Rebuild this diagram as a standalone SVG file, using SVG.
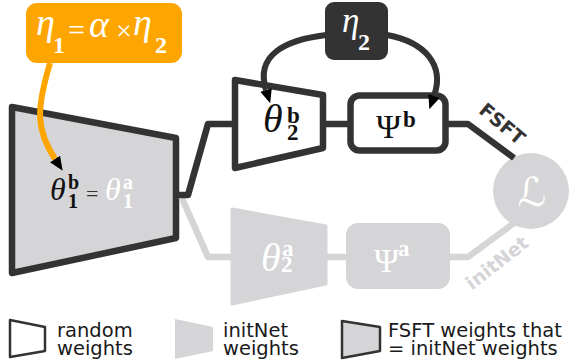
<svg xmlns="http://www.w3.org/2000/svg" width="573" height="364" viewBox="0 0 573 364">
<style>
.dk{stroke:#333;stroke-width:6.5;fill:none;stroke-linejoin:round}
.gl{stroke:#d5d4d7;stroke-width:6.5;fill:none;stroke-linejoin:round}
.arc{stroke:#333;stroke-width:6;fill:none}
.or{stroke:#ffa500;stroke-width:6;fill:none}
.mt{font-family:"Liberation Serif","DejaVu Serif",serif}
.i{font-style:italic}
.b{font-weight:bold}
.lg{font-family:"DejaVu Sans",sans-serif;font-size:19.5px;fill:#1a1a1a}
.lab{font-family:"DejaVu Sans",sans-serif;font-weight:bold;font-size:19px}
</style>
<defs>
<marker id="ah" markerUnits="userSpaceOnUse" markerWidth="14" markerHeight="12" viewBox="0 0 14 12" refX="0" refY="6" orient="auto">
<path d="M0,0 L14,6 L0,12 z" fill="#000"/>
</marker>
</defs>

<g id="note-eta1">
<rect x="26" y="3" width="156" height="60" rx="11" fill="#ffa500"/>
<text class="mt" fill="#fff"><tspan class="i" x="36" y="35" font-size="38">η</tspan><tspan class="b" x="53" y="53" font-size="24">1</tspan><tspan x="68" y="40" font-size="30">=</tspan><tspan class="i" x="89" y="37" font-size="38">α</tspan><tspan x="116" y="40" font-size="28">×</tspan><tspan class="i" x="133" y="35" font-size="38">η</tspan><tspan class="b" x="155" y="53" font-size="24">2</tspan></text>
</g>

<g id="box-eta2">
<rect x="325" y="2" width="63" height="58" rx="9" fill="#333"/>
<text class="mt" fill="#fff"><tspan class="i" x="342" y="32" font-size="35">η</tspan><tspan class="b" x="358" y="50" font-size="24">2</tspan></text>
</g>

<g id="theta1">
<polygon points="12,107 176,138 176,238 12,273" fill="#d5d4d7" stroke="#333" stroke-width="6.5" stroke-linejoin="round"/>
<text class="mt"><tspan class="i" x="50" y="200" font-size="32" fill="#111">θ</tspan><tspan class="b" x="68" y="189" font-size="20" fill="#111">b</tspan><tspan class="b" x="68" y="208" font-size="20" fill="#111">1</tspan><tspan x="86" y="201" font-size="22" fill="#333">=</tspan><tspan class="i" x="105" y="200" font-size="32" fill="#fff">θ</tspan><tspan class="b" x="123" y="189" font-size="20" fill="#fff">a</tspan><tspan class="b" x="123" y="208" font-size="20" fill="#fff">1</tspan></text>
</g>

<g id="theta2b">
<polygon points="235,80 323,95 323,148 235,168" fill="#fff" stroke="#333" stroke-width="6.5" stroke-linejoin="round"/>
<text class="mt" fill="#111"><tspan class="i" x="263" y="132" font-size="40">θ</tspan><tspan class="b" x="287" y="123" font-size="23">b</tspan><tspan class="b" x="287" y="140" font-size="23">2</tspan></text>
</g>

<g id="psib">
<rect x="350.5" y="95.5" width="95" height="55" rx="9" fill="#fff" stroke="#333" stroke-width="6.5"/>
<text class="mt" fill="#111"><tspan x="376" y="138" font-size="34">Ψ</tspan><tspan class="b" x="403" y="127" font-size="23">b</tspan></text>
</g>

<g id="theta2a">
<polygon points="232,209 326,226 326,284 232,304" fill="#d5d4d7" stroke="#d5d4d7" stroke-width="3" stroke-linejoin="round"/>
<text class="mt" fill="#fff"><tspan class="i" x="261" y="271" font-size="40">θ</tspan><tspan class="b" x="282" y="256" font-size="23">a</tspan><tspan class="b" x="281" y="272" font-size="23">2</tspan></text>
</g>

<g id="psia">
<rect x="346" y="223" width="104" height="66" rx="12" fill="#d5d4d7"/>
<text class="mt" fill="#fff"><tspan x="374" y="272" font-size="34">Ψ</tspan><tspan class="b" x="398" y="256" font-size="23">a</tspan></text>
</g>

<g id="loss">
<circle cx="531" cy="191" r="38" fill="#d5d4d7"/>
<text x="532" y="206" font-size="40" fill="#fff" text-anchor="middle" font-family="'DejaVu Serif','DejaVu Sans',serif" font-style="italic">ℒ</text>
</g>

<g id="legend-random">
<polygon points="10,320 45,327 45,351 10,357" fill="#fff" stroke="#333" stroke-width="2.5" stroke-linejoin="round"/>
<text class="lg"><tspan x="57" y="337">random</tspan><tspan x="57" y="355">weights</tspan></text>
</g>
<g id="legend-initnet">
<polygon points="175,319 213,327 213,351 175,359" fill="#d5d4d7"/>
<text class="lg"><tspan x="223" y="337">initNet</tspan><tspan x="223" y="355">weights</tspan></text>
</g>
<g id="legend-fsft">
<polygon points="342,321 380,327 380,351 342,358" fill="#d5d4d7" stroke="#333" stroke-width="2.5" stroke-linejoin="round"/>
<text class="lg"><tspan x="388" y="337">FSFT weights that</tspan><tspan x="388" y="355">= initNet weights</tspan></text>
</g>

<g id="connectors">
<polyline class="gl" points="181,196 208,257 233,257"/>
<line class="gl" x1="326" y1="257" x2="347" y2="257"/>
<polyline class="gl" points="449,257 468,257 514,223"/>
<polyline class="dk" points="176,195 188,195 208,124 235,124"/>
<line class="dk" x1="323" y1="124" x2="350" y2="124"/>
<polyline class="dk" points="446,124 468,124 514,158"/>
<path class="or" d="M50,63 C36,110 36,130 55,159" marker-end="url(#ah)"/>
<path class="arc" d="M326,35 C285,40 255,55 266,90" marker-end="url(#ah)"/>
<path class="arc" d="M387,35 C425,42 445,65 434,96" marker-end="url(#ah)"/>
<text class="lab" fill="#333" transform="translate(498,129) rotate(40)" text-anchor="middle">FSFT</text>
<text class="lab" fill="#d5d4d7" transform="translate(501,268) rotate(-38)" text-anchor="middle">initNet</text>
</g>
</svg>
